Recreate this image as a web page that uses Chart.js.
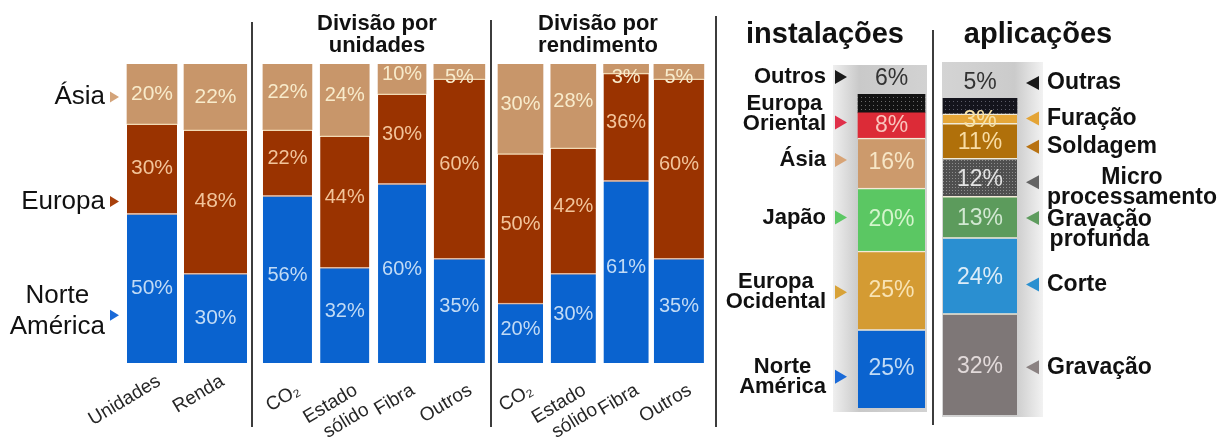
<!DOCTYPE html>
<html>
<head>
<meta charset="utf-8">
<script src="https://cdn.jsdelivr.net/npm/chart.js@4.4.1/dist/chart.umd.min.js"></script>
<style>
    html, body { margin: 0; padding: 0; background: #fff; }
    #board { position: relative; width: 1230px; height: 447px; overflow: hidden; }
    #board canvas { position: absolute; left: 0; top: 0; }
    .sep { position: absolute; width: 2px; background: #3c3c3c; }
</style>
</head>
<body>
<div id="board">
    <canvas id="region_chart" width="1230" height="447"></canvas>
    <canvas id="units_chart" width="1230" height="447"></canvas>
    <canvas id="revenue_chart" width="1230" height="447"></canvas>
    <canvas id="install_chart" width="1230" height="447"></canvas>
    <canvas id="application_chart" width="1230" height="447"></canvas>
    <div class="sep" style="left:251px;top:22px;height:405px"></div>
    <div class="sep" style="left:490px;top:20px;height:407px"></div>
    <div class="sep" style="left:715px;top:16px;height:411px"></div>
    <div class="sep" style="left:932px;top:30px;height:395px"></div>
</div>
<script>
// units vs revenue by region
var region_categories = ['Unidades', 'Renda'];
var region_north_america = [50, 30];
var region_europe = [30, 48];
var region_asia = [20, 22];

// split by laser type
var laser_types = ['CO₂', ['Estado', 'sólido'], 'Fibra', 'Outros'];
var units_north_america = [56, 32, 60, 35];
var units_europe = [22, 44, 30, 60];
var units_asia = [22, 24, 10, 5];

var revenue_north_america = [20, 30, 61, 35];
var revenue_europe = [50, 42, 36, 60];
var revenue_asia = [30, 28, 3, 5];

// installations, bottom to top
var install_labels = [['Norte', 'América'], ['Europa', 'Ocidental'], ['Japão'], ['Ásia'], ['Europa', 'Oriental'], ['Outros']];
var install_values = [25, 25, 20, 16, 8, 6];

// applications, bottom to top
var application_labels = [['Gravação'], ['Corte'], ['Gravação', 'profunda'], ['Micro', 'processamento'], ['Soldagem'], ['Furação'], ['Outras']];
var application_values = [32, 24, 13, 12, 11, 3, 5];

var FONT = '"Liberation Sans", Arial, Helvetica, sans-serif';
Chart.defaults.font.family = FONT;
Chart.defaults.animation = false;
Chart.defaults.events = [];
Chart.defaults.plugins.legend.display = false;
Chart.defaults.plugins.tooltip.enabled = false;

var BLUE = '#0a63cf', BROWN = '#9a3300', TAN = '#c8966a';

function dotted(base, dot, size) {
    let c = document.createElement('canvas');
    c.width = size;
    c.height = size;
    let g = c.getContext('2d');
    g.fillStyle = base;
    g.fillRect(0, 0, size, size);
    g.fillStyle = dot;
    g.fillRect(1, 1, 1, 1);
    return g.createPattern(c, 'repeat');
}

// one dataset per segment per bar so every bar can keep its own width
function stacked_bars(series, widths) {
    let datasets = [];
    series.forEach(function (s) {
        widths.forEach(function (w, j) {
            datasets.push({
                data: s.values.map(function (v, k) { return k === j ? v : null; }),
                backgroundColor: s.colour,
                borderColor: s.edge || s.colour,
                borderWidth: {top: s.edge ? 1.5 : 0, right: 0, bottom: 0, left: 0},
                borderSkipped: false,
                barThickness: w,
                labelColour: s.text
            });
        });
    });
    return datasets;
}

function region_series(na, eu, as) {
    return [
        {values: na, colour: BLUE, text: '#c2dbf5', edge: '#e6b79a'},
        {values: eu, colour: BROWN, text: '#f2c49a', edge: '#f2dab4'},
        {values: as, colour: TAN, text: '#f8ebcb'}
    ];
}

var segment_labels = {
    id: 'segment_labels',
    afterDatasetsDraw: function (chart, args, o) {
        let ctx = chart.ctx;
        ctx.save();
        ctx.font = o.font;
        ctx.textAlign = 'center';
        ctx.textBaseline = 'middle';
        chart.data.datasets.forEach(function (ds, i) {
            chart.getDatasetMeta(i).data.forEach(function (bar, j) {
                let v = ds.data[j];
                if (v === null || v === undefined) return;
                let y = (bar.y + bar.base) / 2 + (o.shift || 0);
                if (ds.labelAbove) {
                    y = bar.y - 15;
                } else if (o.thin && bar.base - bar.y < 20) {
                    // thin top slices: push the text down into the bar
                    y = bar.y + o.thin;
                }
                ctx.fillStyle = ds.labelColour;
                ctx.fillText(v + '%', bar.x, y);
            });
        });
        ctx.restore();
    }
};

// names with a small arrow beside the stacked column
var side_labels = {
    id: 'side_labels',
    afterDatasetsDraw: function (chart, args, o) {
        let ctx = chart.ctx;
        let items = [];
        if (o.fixed) {
            o.fixed.forEach(function (f) {
                items.push({lines: f.lines, colour: f.colour, y: chart.scales.y.getPixelForValue(f.value), dy: f.dy || 0});
            });
        } else {
            chart.data.datasets.forEach(function (ds, i) {
                let bar = chart.getDatasetMeta(i).data[0];
                let y = ds.labelAbove ? bar.y - 15 : (bar.y + bar.base) / 2;
                y += (o.nudge && o.nudge[i]) || 0;
                items.push({lines: ds.sideLabel, colour: ds.arrowColour, y: y, dy: (o.textDy && o.textDy[i]) || 0});
            });
        }
        ctx.save();
        ctx.font = o.font;
        ctx.textAlign = 'center';
        ctx.textBaseline = 'middle';
        items.forEach(function (it) {
            let d = o.side === 'left' ? -o.len : o.len;
            ctx.fillStyle = it.colour;
            ctx.beginPath();
            ctx.moveTo(o.tip + d, it.y - o.half);
            ctx.lineTo(o.tip, it.y);
            ctx.lineTo(o.tip + d, it.y + o.half);
            ctx.closePath();
            ctx.fill();

            ctx.fillStyle = '#111';
            let block = Math.max.apply(null, it.lines.map(function (l) { return ctx.measureText(l).width; }));
            let cx = o.side === 'left' ? o.edge - block / 2 : o.edge + block / 2;
            let y0 = it.y + it.dy - (it.lines.length - 1) * o.lh / 2;
            it.lines.forEach(function (l, k) { ctx.fillText(l, cx, y0 + k * o.lh); });
        });
        ctx.restore();
    }
};

var panel_text = {
    id: 'panel_text',
    beforeDatasetsDraw: function (chart, args, o) {
        let ctx = chart.ctx;
        ctx.save();
        if (o.column) {
            let c = o.column;
            let grad = ctx.createLinearGradient(c.x, 0, c.x + c.w, 0);
            c.stops.forEach(function (s) { grad.addColorStop(s[0], s[1]); });
            ctx.fillStyle = grad;
            ctx.fillRect(c.x, c.y, c.w, c.h);
        }
        ctx.fillStyle = '#111';
        ctx.textAlign = 'center';
        ctx.textBaseline = 'alphabetic';
        (o.titles || []).forEach(function (t) {
            ctx.font = t.font;
            ctx.fillText(t.text, t.x, t.y);
        });
        ctx.restore();
    }
};

function category_axis(offset, pad) {
    return {
        stacked: true,
        grid: {display: false, drawTicks: false},
        border: {display: false},
        ticks: {
            color: '#262626', font: {size: 19}, minRotation: 31, maxRotation: 31,
            padding: pad, labelOffset: offset, autoSkip: false
        },
        afterFit: function (scale) {
            scale.height = 84;
            scale.paddingLeft = 0;
            scale.paddingRight = 0;
        }
    };
}

function value_axis() {
    return {stacked: true, display: false, min: 0, max: 100};
}

var region_chart = new Chart(document.getElementById('region_chart').getContext('2d'), {
    type: 'bar',
    data: {
        labels: region_categories,
        datasets: stacked_bars(region_series(region_north_america, region_europe, region_asia), [50, 63])
    },
    options: {
        responsive: false,
        layout: {padding: {left: 120.25, right: 982.75, top: 64, bottom: 0}},
        scales: {x: category_axis(7, 7), y: value_axis()},
        plugins: {
            segment_labels: {font: '21px ' + FONT, shift: 0},
            side_labels: {
                side: 'left', edge: 105, tip: 119, len: 9, half: 5.5, lh: 31, font: '26px ' + FONT,
                fixed: [
                    {lines: ['Ásia'], colour: '#d4a47a', value: 89},
                    {lines: ['Europa'], colour: '#a8400c', value: 54},
                    {lines: ['Norte', 'América'], colour: '#1a6ad8', value: 16, dy: -4}
                ]
            }
        }
    },
    plugins: [segment_labels, side_labels]
});

var units_chart = new Chart(document.getElementById('units_chart').getContext('2d'), {
    type: 'bar',
    data: {
        labels: laser_types,
        datasets: stacked_bars(region_series(units_north_america, units_europe, units_asia), [49, 49, 48, 51])
    },
    options: {
        responsive: false,
        layout: {padding: {left: 258.8, right: 742, top: 64, bottom: 0}},
        scales: {x: category_axis(11, 16), y: value_axis()},
        plugins: {
            segment_labels: {font: '20px ' + FONT, shift: -4, thin: 13},
            panel_text: {titles: [
                {text: 'Divisão por', x: 377, y: 30, font: 'bold 22px ' + FONT},
                {text: 'unidades', x: 377, y: 52, font: 'bold 22px ' + FONT}
            ]}
        }
    },
    plugins: [segment_labels, panel_text]
});

var revenue_chart = new Chart(document.getElementById('revenue_chart').getContext('2d'), {
    type: 'bar',
    data: {
        labels: laser_types,
        datasets: stacked_bars(region_series(revenue_north_america, revenue_europe, revenue_asia), [45, 45, 45, 50])
    },
    options: {
        responsive: false,
        layout: {padding: {left: 494.1, right: 524.7, top: 64, bottom: 0}},
        scales: {x: category_axis(11, 16), y: value_axis()},
        plugins: {
            segment_labels: {font: '20px ' + FONT, shift: -4, thin: 13},
            panel_text: {titles: [
                {text: 'Divisão por', x: 598, y: 30, font: 'bold 22px ' + FONT},
                {text: 'rendimento', x: 598, y: 52, font: 'bold 22px ' + FONT}
            ]}
        }
    },
    plugins: [segment_labels, panel_text]
});

var install_colours = [BLUE, '#d49b33', '#5bc763', '#cc9a6c', '#dc2b37', dotted('#121212', '#6a6a6a', 4)];
var install_text = ['#c2dbf5', '#f8e3b4', '#d4f5cc', '#f7e6c6', '#f9c4bc', '#333'];
var install_arrows = ['#1a6ad8', '#d8a238', '#5cc864', '#d8a476', '#e0304a', '#1a1a1a'];

var install_chart = new Chart(document.getElementById('install_chart').getContext('2d'), {
    type: 'bar',
    data: {
        labels: [''],
        datasets: install_values.map(function (v, i) {
            let top = i === install_values.length - 1;
            return {
                data: [v],
                backgroundColor: install_colours[i],
                borderColor: '#f3ead8',
                borderWidth: {top: (top || i === 4) ? 0 : 1.5, right: 0, bottom: 0, left: 0},
                borderSkipped: false,
                barThickness: 67,
                labelColour: install_text[i],
                arrowColour: install_arrows[i],
                sideLabel: install_labels[i],
                labelAbove: top
            };
        })
    },
    options: {
        responsive: false,
        layout: {padding: {left: 851.5, right: 298.5, top: 94, bottom: 39}},
        scales: {x: {stacked: true, display: false}, y: value_axis()},
        plugins: {
            segment_labels: {font: '23px ' + FONT, shift: 0},
            side_labels: {
                side: 'left', edge: 826, tip: 847, len: 12, half: 7, lh: 20, font: 'bold 22px ' + FONT,
                nudge: {0: 8, 1: 2, 2: -2, 3: -3, 4: -3, 5: -2},
                textDy: {4: -8}
            },
            panel_text: {
                titles: [{text: 'instalações', x: 825, y: 43, font: 'bold 29px ' + FONT}],
                column: {x: 833, y: 65, w: 94, h: 347, stops: [[0, '#efefef'], [0.28, '#c9c9c9'], [1, '#d2d2d2']]}
            }
        }
    },
    plugins: [panel_text, segment_labels, side_labels]
});

var application_colours = ['#7e7777', '#2a8fd1', '#5c9b5c', dotted('#4f4f4f', '#8e8e8e', 3), '#b0700a', '#e5a638', dotted('#14141c', '#5a5a66', 4)];
var application_text = ['#e2dada', '#dcecf8', '#d2e8d2', '#e2e2e2', '#f8dca4', '#f8e2a6', '#333'];
var application_arrows = ['#8a8181', '#2a90d0', '#5e9c5e', '#646464', '#b87212', '#e4a436', '#1a1a1a'];

var application_chart = new Chart(document.getElementById('application_chart').getContext('2d'), {
    type: 'bar',
    data: {
        labels: [''],
        datasets: application_values.map(function (v, i) {
            let top = i === application_values.length - 1;
            return {
                data: [v],
                backgroundColor: application_colours[i],
                borderColor: '#f1ead6',
                borderWidth: {top: top ? 0 : 1.5, right: 0, bottom: 0, left: 0},
                borderSkipped: false,
                barThickness: 74,
                labelColour: application_text[i],
                arrowColour: application_arrows[i],
                sideLabel: application_labels[i],
                labelAbove: top
            };
        })
    },
    options: {
        responsive: false,
        layout: {padding: {left: 940, right: 210, top: 98, bottom: 32}},
        scales: {x: {stacked: true, display: false}, y: value_axis()},
        plugins: {
            segment_labels: {font: '23px ' + FONT, shift: 2},
            side_labels: {
                side: 'right', edge: 1047, tip: 1026, len: 13, half: 7, lh: 20, font: 'bold 23px ' + FONT,
                nudge: {0: 3, 1: 9, 2: 1, 3: 5, 4: 6, 5: 0, 6: 0},
                textDy: {2: 12, 3: 5}
            },
            panel_text: {
                titles: [{text: 'aplicações', x: 1038, y: 43, font: 'bold 29px ' + FONT}],
                column: {x: 942, y: 62, w: 101, h: 355, stops: [[0, '#d4d4d4'], [0.72, '#cbcbcb'], [1, '#f2f2f2']]}
            }
        }
    },
    plugins: [panel_text, segment_labels, side_labels]
});
</script>
</body>
</html>
